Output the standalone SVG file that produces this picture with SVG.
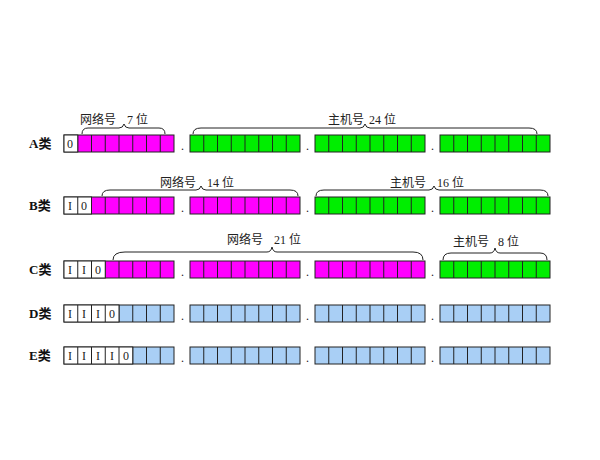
<svg xmlns="http://www.w3.org/2000/svg" width="600" height="460" viewBox="0 0 600 460">
<style>
.c{stroke:#222;stroke-width:1}
.w{fill:#fff}.m{fill:#f0f}.g{fill:#0e0}.b{fill:#a9cff5}
.lab{font-family:"Liberation Serif","Noto Sans CJK SC",serif;font-weight:bold;font-size:13px;fill:#111}
.t{font-family:"Liberation Serif","Noto Sans CJK SC",serif;font-size:12px;fill:#222}
.d{font-family:"Liberation Serif",serif;font-size:12px;fill:#222}
.br{fill:none;stroke:#222;stroke-width:1}
</style>
<defs>
<g id="byteM"><rect width="110" height="17" class="m c"/><path d="M13.75 0v17M27.5 0v17M41.25 0v17M55 0v17M68.75 0v17M82.5 0v17M96.25 0v17" class="c"/></g>
<g id="byteG"><rect width="110" height="17" class="g c"/><path d="M13.75 0v17M27.5 0v17M41.25 0v17M55 0v17M68.75 0v17M82.5 0v17M96.25 0v17" class="c"/></g>
<g id="byteB"><rect width="110" height="17" class="b c"/><path d="M13.75 0v17M27.5 0v17M41.25 0v17M55 0v17M68.75 0v17M82.5 0v17M96.25 0v17" class="c"/></g>
<g id="dots"><text class="d" x="181" y="15">.</text><text class="d" x="306" y="15">.</text><text class="d" x="431" y="15">.</text></g>
</defs>
<g id="rowA" transform="translate(0,135)">
<text class="lab" x="29" y="13">A类</text>
<use href="#byteM" x="64"/><rect x="64" width="13.75" height="17" class="w c"/><text class="d" x="67" y="13">0</text>
<use href="#byteG" x="190"/><use href="#byteG" x="315"/><use href="#byteG" x="440"/><use href="#dots"/>
</g>
<g id="rowB" transform="translate(0,197)">
<text class="lab" x="29" y="13">B类</text>
<use href="#byteM" x="64"/><rect x="64" width="27.5" height="17" class="w c"/><path d="M77.75 0v17" class="c"/>
<text class="d" x="68" y="13">I</text><text class="d" x="81" y="13">0</text>
<use href="#byteM" x="190"/><use href="#byteG" x="315"/><use href="#byteG" x="440"/><use href="#dots"/>
</g>
<g id="rowC" transform="translate(0,261)">
<text class="lab" x="29" y="13">C类</text>
<use href="#byteM" x="64"/><rect x="64" width="41.25" height="17" class="w c"/><path d="M77.75 0v17M91.5 0v17" class="c"/>
<text class="d" x="68" y="13">I</text><text class="d" x="82" y="13">I</text><text class="d" x="95" y="13">0</text>
<use href="#byteM" x="190"/><use href="#byteM" x="315"/><use href="#byteG" x="440"/><use href="#dots"/>
</g>
<g id="rowD" transform="translate(0,305)">
<text class="lab" x="29" y="13">D类</text>
<use href="#byteB" x="64"/><rect x="64" width="55" height="17" class="w c"/><path d="M77.75 0v17M91.5 0v17M105.25 0v17" class="c"/>
<text class="d" x="68" y="13">I</text><text class="d" x="82" y="13">I</text><text class="d" x="96" y="13">I</text><text class="d" x="109" y="13">0</text>
<use href="#byteB" x="190"/><use href="#byteB" x="315"/><use href="#byteB" x="440"/><use href="#dots"/>
</g>
<g id="rowE" transform="translate(0,347)">
<text class="lab" x="29" y="13">E类</text>
<use href="#byteB" x="64"/><rect x="64" width="68.75" height="17" class="w c"/><path d="M77.75 0v17M91.5 0v17M105.25 0v17M119 0v17" class="c"/>
<text class="d" x="68" y="13">I</text><text class="d" x="82" y="13">I</text><text class="d" x="96" y="13">I</text><text class="d" x="110" y="13">I</text><text class="d" x="123" y="13">0</text>
<use href="#byteB" x="190"/><use href="#byteB" x="315"/><use href="#byteB" x="440"/><use href="#dots"/>
</g>
<g id="braces">
<path class="br" d="M82 134Q82 128 88 128L119 128Q123 128 124 124Q125 128 129 128L159 128Q165 128 165 134"/>
<text class="t" x="80" y="124">网络号</text><text class="t" x="127" y="124">7 位</text>
<path class="br" d="M193 134Q193 128 201 128L360 128Q364 128 365 124Q366 128 370 128L529 128Q537 128 537 134"/>
<text class="t" x="328" y="124">主机号</text><text class="t" x="369" y="124">24 位</text>
<path class="br" d="M102 196Q102 190 110 190L196 190Q200 190 201 186Q202 190 206 190L290 190Q298 190 298 196"/>
<text class="t" x="160" y="187">网络号</text><text class="t" x="207" y="187">14 位</text>
<path class="br" d="M316 196Q316 190 324 190L429 190Q433 190 434 186Q435 190 439 190L540 190Q548 190 548 196"/>
<text class="t" x="390" y="187">主机号</text><text class="t" x="437" y="187">16 位</text>
<path class="br" d="M113 260Q113 252 125 252L267 252Q271 252 272 247Q273 252 277 252L413 252Q423 252 423 260"/>
<text class="t" x="227" y="244">网络号</text><text class="t" x="274" y="244">21 位</text>
<path class="br" d="M443 260Q443 253 451 253L490 253Q494 253 495 248Q496 253 500 253L540 253Q547 253 547 260"/>
<text class="t" x="453" y="246">主机号</text><text class="t" x="498" y="246">8 位</text>
</g>
</svg>
